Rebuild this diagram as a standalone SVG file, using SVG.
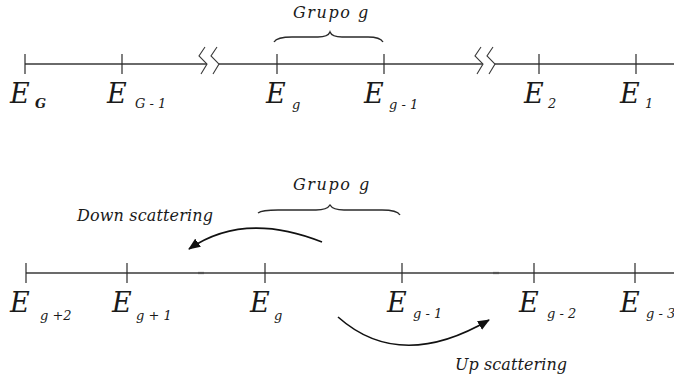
<svg xmlns="http://www.w3.org/2000/svg" width="674" height="381" viewBox="0 0 674 381">
<style>
  text { font-family: "DejaVu Serif", "Liberation Serif", serif; font-style: italic; fill: #1a1a1a; }
  .E { font-size: 27px; }
  .s { font-size: 13px; }
  .lbl { font-size: 16px; }
  .axis { stroke: #3a3a3a; stroke-width: 1.3; fill: none; }
  .tick { stroke: #2a2a2a; stroke-width: 1.2; }
  .brk { stroke: #3a3a3a; stroke-width: 1.1; fill: none; }
  .brace { stroke: #2a2a2a; stroke-width: 1.4; fill: none; }
  .arr { stroke: #111; stroke-width: 1.6; fill: none; marker-end: url(#ah); }
  .dash { stroke: #555; stroke-width: 2.2; }
</style>
<defs>
  <marker id="ah" viewBox="0 0 12 10" refX="11" refY="5" markerWidth="12" markerHeight="10" markerUnits="userSpaceOnUse" orient="auto">
    <path d="M0,0 L12,5 L0,10 Z" fill="#111"/>
  </marker>
</defs>

<!-- top axis -->
<g id="top-axis">
  <path class="axis" d="M25,64 H207 M219,64 H483 M495,64 H674"/>
  <path class="brk" d="M205,47 L199,56 L207,64 L201,74 M217,47 L211,56 L219,64 L213,74"/>
  <path class="brk" d="M481,47 L475,56 L483,64 L477,74 M493,47 L487,56 L495,64 L489,74"/>
</g>

<g id="top-EG">
  <line class="tick" x1="25" y1="54" x2="25" y2="74"/>
  <text class="E" x="10" y="103">E</text><text class="s" x="35" y="108" font-weight="bold" font-size="15">G</text>
</g>
<g id="top-EG-1">
  <line class="tick" x1="122" y1="54" x2="122" y2="74"/>
  <text class="E" x="107" y="103">E</text><text class="s" x="135" y="108">G - 1</text>
</g>
<g id="top-Eg">
  <line class="tick" x1="277" y1="54" x2="277" y2="74"/>
  <text class="E" x="266" y="103">E</text><text class="s" x="292" y="109">g</text>
</g>
<g id="top-Eg-1">
  <line class="tick" x1="384" y1="54" x2="384" y2="74"/>
  <text class="E" x="364" y="103">E</text><text class="s" x="389" y="109">g - 1</text>
</g>
<g id="top-E2">
  <line class="tick" x1="539" y1="54" x2="539" y2="74"/>
  <text class="E" x="524" y="103">E</text><text class="s" x="548" y="108">2</text>
</g>
<g id="top-E1">
  <line class="tick" x1="636" y1="54" x2="636" y2="74"/>
  <text class="E" x="620" y="103">E</text><text class="s" x="645" y="108">1</text>
</g>
<g id="top-group">
  <text class="lbl" x="293" y="18" textLength="57">Grupo</text><text class="lbl" x="358" y="18">g</text>
  <path class="brace" d="M274,42 Q277,37 292,37 L318,37 Q328,37 330,32 Q332,37 342,37 L368,37 Q380,37 383,42"/>
</g>

<!-- bottom axis -->
<g id="bottom-axis">
  <path class="axis" d="M26,273 H674"/>
  <line class="dash" x1="198" y1="273" x2="204" y2="273"/>
  <line class="dash" x1="493" y1="273" x2="499" y2="273"/>
</g>

<g id="bot-Eg+2">
  <line class="tick" x1="26" y1="263" x2="26" y2="283"/>
  <text class="E" x="10" y="312">E</text><text class="s" x="40" y="320">g +2</text>
</g>
<g id="bot-Eg+1">
  <line class="tick" x1="127" y1="263" x2="127" y2="283"/>
  <text class="E" x="112" y="312">E</text><text class="s" x="136" y="320">g + 1</text>
</g>
<g id="bot-Eg">
  <line class="tick" x1="265" y1="263" x2="265" y2="283"/>
  <text class="E" x="250" y="312">E</text><text class="s" x="274" y="320">g</text>
</g>
<g id="bot-Eg-1">
  <line class="tick" x1="402" y1="263" x2="402" y2="283"/>
  <text class="E" x="387" y="312">E</text><text class="s" x="413" y="318">g - 1</text>
</g>
<g id="bot-Eg-2">
  <line class="tick" x1="534" y1="263" x2="534" y2="283"/>
  <text class="E" x="519" y="312">E</text><text class="s" x="547" y="318">g - 2</text>
</g>
<g id="bot-Eg-3">
  <line class="tick" x1="635" y1="263" x2="635" y2="283"/>
  <text class="E" x="620" y="312">E</text><text class="s" x="646" y="318">g - 3</text>
</g>
<g id="bot-group">
  <text class="lbl" x="293" y="190" textLength="57">Grupo</text><text class="lbl" x="359" y="190">g</text>
  <path class="brace" d="M258,213 Q262,210 278,210 L316,210 Q327,210 330,205 Q333,210 344,210 L382,210 Q397,210 400,215"/>
</g>

<g id="down-label"><text class="lbl" x="77" y="221" textLength="136">Down scattering</text></g>
<g id="up-label"><text class="lbl" x="455" y="370" textLength="112">Up scattering</text></g>

<g id="connectors">
  <path class="arr" d="M322,242 Q244,211 189,249"/>
  <path class="arr" d="M338,317 Q400,372 489,320"/>
</g>
</svg>
